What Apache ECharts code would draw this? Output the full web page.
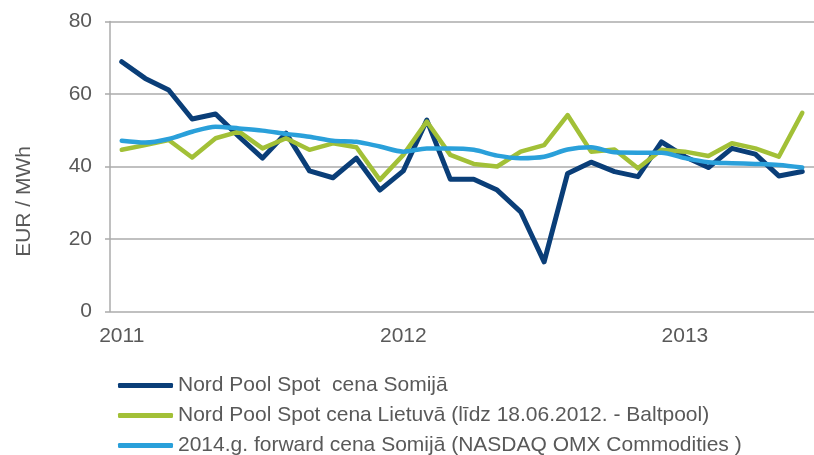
<!DOCTYPE html>
<html>
<head>
<meta charset="utf-8">
<script src="https://cdn.jsdelivr.net/npm/echarts@6/dist/echarts.min.js"></script>
<style>
  html, body { margin: 0; padding: 0; background: #fff; }
  #chart { width: 814px; height: 455px; }
</style>
</head>
<body>
<div id="chart"></div>
<script>
// mēneši no 2011-01 līdz 2013-06
var months = [];
for (var y = 2011; y <= 2013; y++) {
    for (var m = 1; m <= 12; m++) {
        if (y === 2013 && m > 6) break;
        months.push(y + '-' + (m < 10 ? '0' + m : m));
    }
}

var seriesNames = [
    'Nord Pool Spot  cena Somijā',
    'Nord Pool Spot cena Lietuvā (līdz 18.06.2012. - Baltpool)',
    '2014.g. forward cena Somijā (NASDAQ OMX Commodities )'
];

var spotFinland = [68.9, 64.3, 61.1, 53.1, 54.5, 48.2, 42.3, 49.2, 38.8, 36.9,
                   42.3, 33.5, 38.8, 52.8, 36.5, 36.5, 33.5, 27.5, 13.7, 38.1,
                   41.2, 38.6, 37.2, 46.8, 42.7, 39.7, 45.0, 43.4, 37.4, 38.6];

var spotLithuania = [44.6, 45.9, 47.3, 42.5, 47.8, 49.6, 45.0, 47.8, 44.6, 46.4,
                     45.3, 36.3, 43.2, 52.4, 43.2, 40.7, 40.0, 44.1, 45.9, 54.2,
                     44.1, 44.7, 39.5, 44.6, 44.1, 42.9, 46.4, 45.0, 42.7, 54.8];

var forwardFinland = [47.1, 46.6, 47.6, 49.6, 51.0, 50.5, 49.9, 49.0, 48.2, 47.1,
                      46.8, 45.5, 44.1, 45.0, 45.0, 44.6, 43.0, 42.3, 42.7, 44.7,
                      45.3, 43.9, 43.8, 43.8, 42.3, 41.2, 40.9, 40.7, 40.4, 39.7];

var yTicks = [0, 20, 40, 60, 80];

var font = 'Liberation Sans, Arial, sans-serif';
var textColor = '#595959';
var gridColor = '#ababab';

var myChart = echarts.init(document.getElementById('chart'));

// katrai leģendas rindai savs bloks, lai neliktu kolonnās
var legends = seriesNames.map(function (name, i) {
    return {
        orient: 'vertical',
        left: 118,
        top: 375 + i * 30,
        padding: 0,
        itemWidth: 55,
        itemHeight: 5,
        icon: 'roundRect',
        textStyle: { fontFamily: font, fontSize: 21, lineHeight: 20, color: textColor },
        data: [name]
    };
});

var option = {
    animation: false,
    color: ['#0a3e78', '#a2c037', '#2aa0da'],
    grid: {
        left: 110,
        right: -5,
        top: 21.5,
        bottom: 143.5
    },
    legend: legends,
    graphic: [{
        type: 'text',
        left: 14,
        top: 146,
        rotation: Math.PI / 2,
        style: {
            text: 'EUR / MWh',
            font: '21px ' + font,
            fill: textColor
        }
    }],
    xAxis: {
        type: 'category',
        data: months,
        boundaryGap: true,
        axisLine: { show: false },
        axisTick: { show: false },
        axisLabel: {
            interval: 11,
            margin: 14,
            fontFamily: font,
            fontSize: 21,
            color: textColor,
            formatter: function (v) { return v.substring(0, 4); }
        }
    },
    yAxis: {
        type: 'value',
        min: yTicks[0],
        max: yTicks[yTicks.length - 1],
        interval: 20,
        axisLine: { show: true, lineStyle: { color: gridColor, width: 1.5 } },
        axisTick: { show: true, length: 5, lineStyle: { color: gridColor, width: 1.5 } },
        splitLine: { lineStyle: { color: gridColor, width: 1.5 } },
        axisLabel: {
            margin: 18,
            fontFamily: font,
            fontSize: 21,
            color: textColor
        }
    },
    series: [
        {
            name: seriesNames[0],
            type: 'line',
            data: spotFinland,
            symbol: 'none',
            lineStyle: { width: 5, join: 'round', cap: 'round' }
        },
        {
            name: seriesNames[1],
            type: 'line',
            data: spotLithuania,
            symbol: 'none',
            lineStyle: { width: 4.5, join: 'round', cap: 'round' }
        },
        {
            name: seriesNames[2],
            type: 'line',
            data: forwardFinland,
            symbol: 'none',
            smooth: 0.3,
            lineStyle: { width: 4.5, join: 'round', cap: 'round' }
        }
    ]
};

myChart.setOption(option);
</script>
</body>
</html>
